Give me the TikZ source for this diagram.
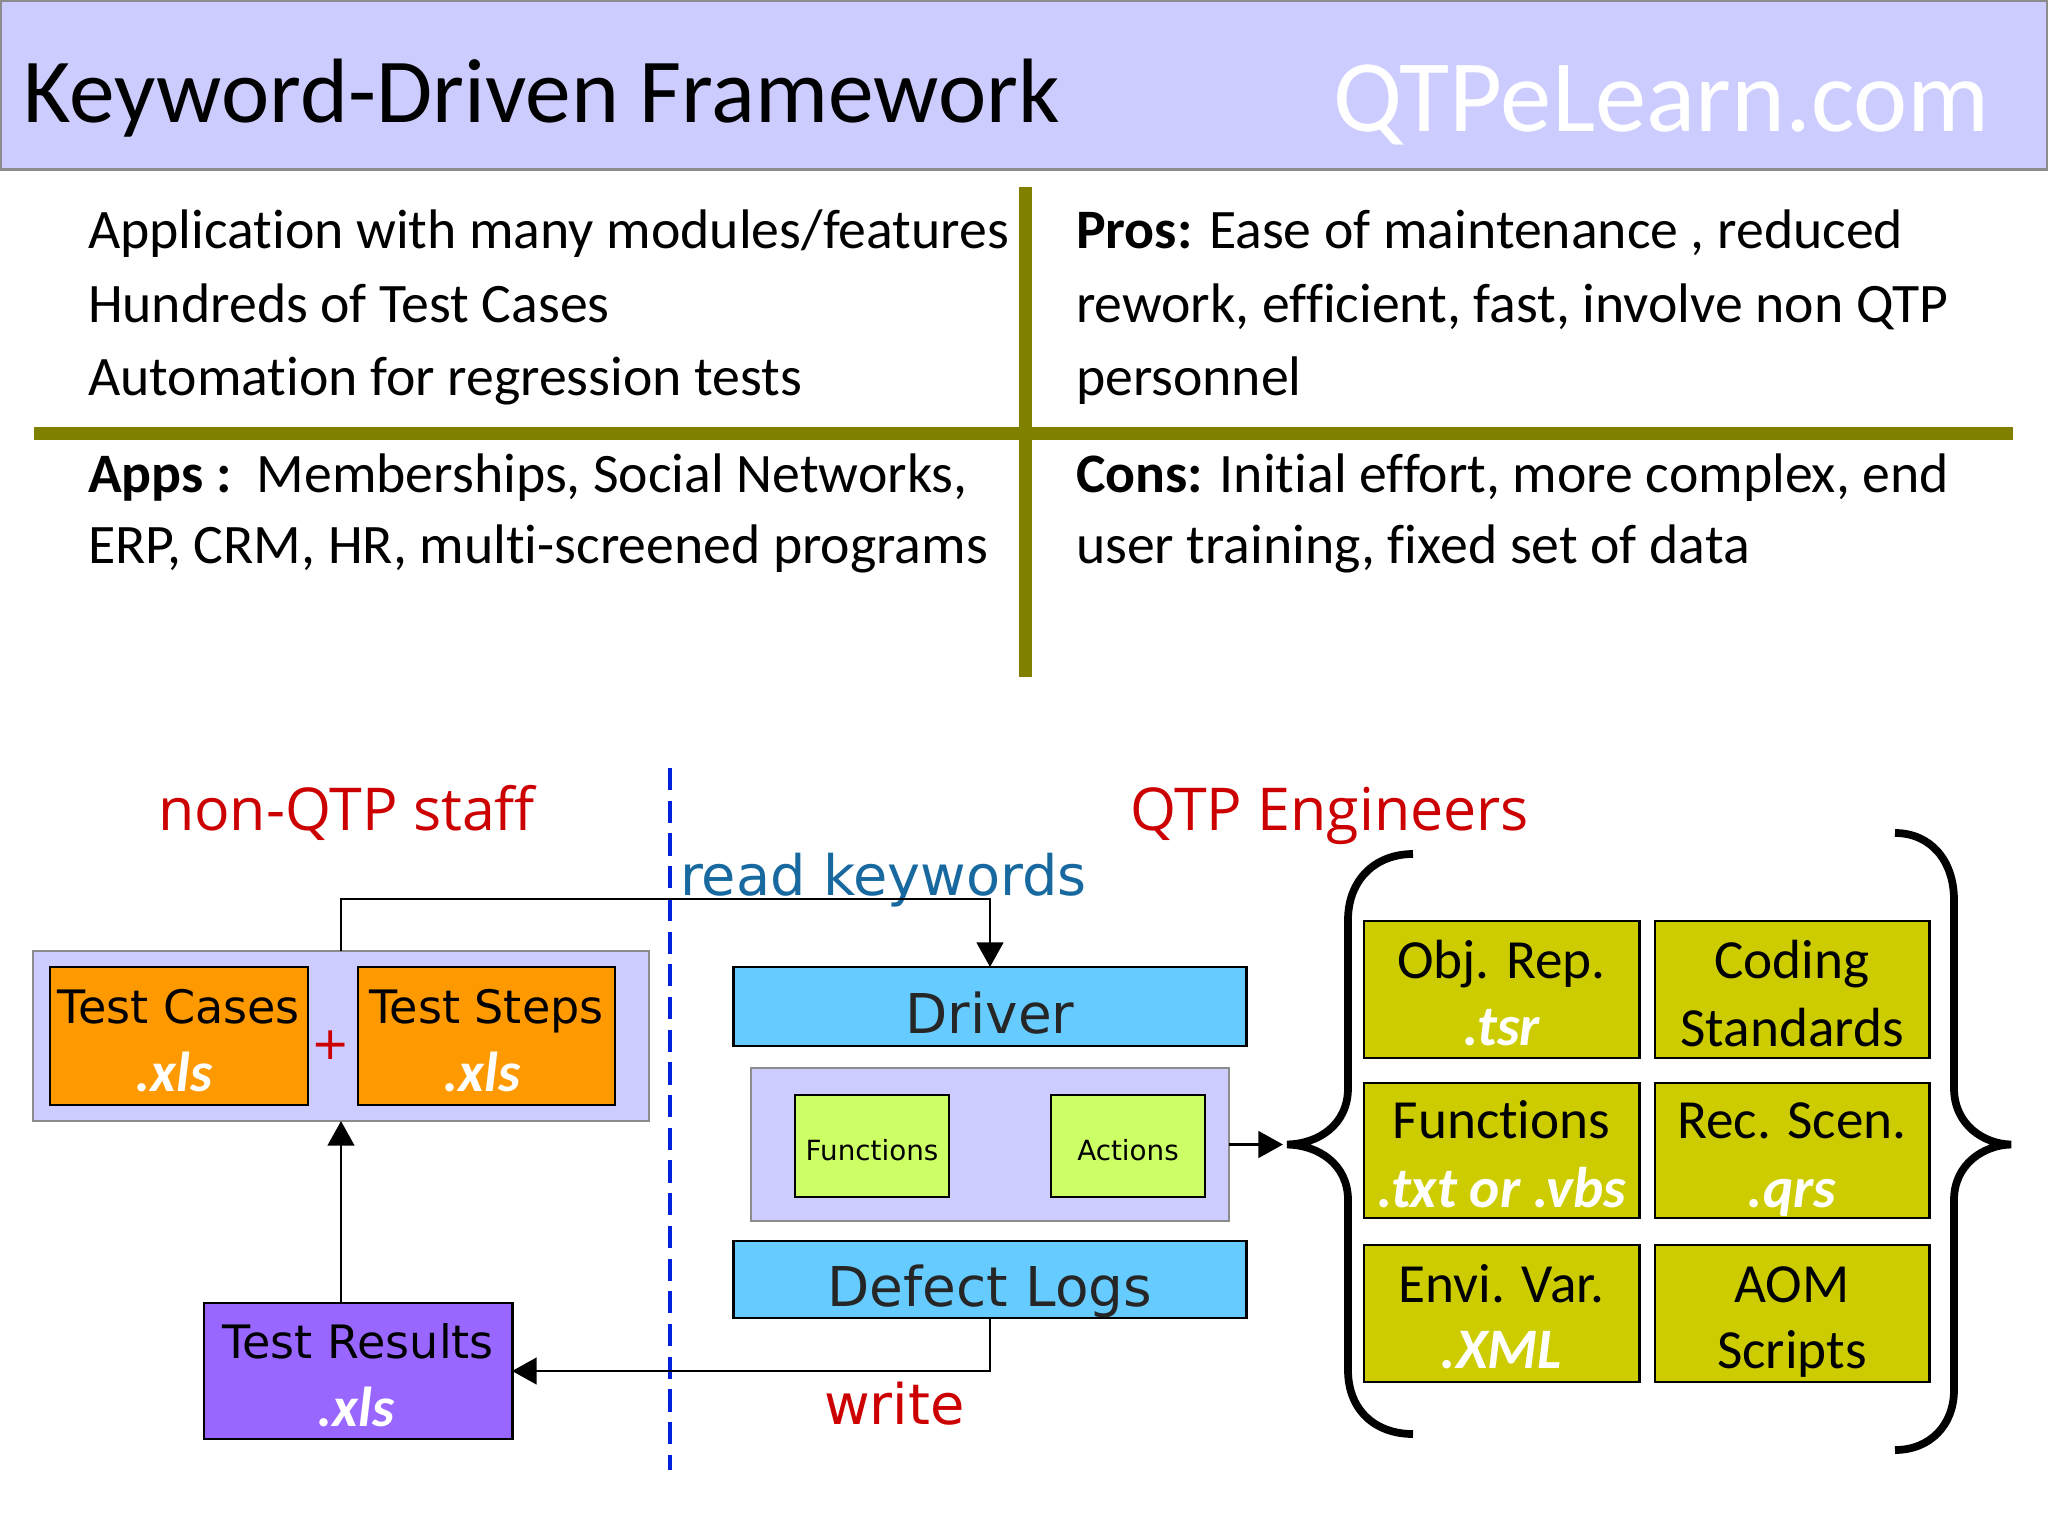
\documentclass[tikz,border=0pt]{standalone}
\usepackage{fontspec}
\setmainfont{Carlito}[Ligatures=NoCommon]
\newfontfamily\vfont{DejaVu Sans}
\newfontfamily\tfont{Open Sans}
\usetikzlibrary{arrows.meta}
\newcommand\fsz[1]{\fontsize{#1pt}{#1pt}\selectfont}
\definecolor{lav}{HTML}{CCCCFF}
\definecolor{oli}{HTML}{808000}
\definecolor{orng}{HTML}{FF9900}
\definecolor{purp}{HTML}{9966FF}
\definecolor{skyb}{HTML}{66CCFF}
\definecolor{lime}{HTML}{CCFF66}
\definecolor{yel}{HTML}{CCCC00}
\definecolor{redt}{HTML}{CC0000}
\definecolor{bluet}{HTML}{17699F}
\definecolor{dashb}{HTML}{0022DD}
\begin{document}
\begin{tikzpicture}[x=0.01cm,y=-0.01cm,
  box/.style={draw=black, line width=0.8pt, inner sep=0pt, outer sep=0pt},
  panel/.style={draw=black!45, fill=lav, line width=0.7pt, inner sep=0pt, outer sep=0pt},
  lbl/.style={inner sep=0pt, outer sep=0pt, anchor=base},
  lblw/.style={inner sep=0pt, outer sep=0pt, anchor=base west},
  body/.style={lblw, font=\fsz{15.85}},
  gridtxt/.style={lbl, font=\fsz{15.7}},
  ext/.style={lbl, text=white, font=\fsz{16}\bfseries\itshape},
  gext/.style={lbl, text=white, font=\fsz{16.3}\bfseries\itshape},
  boxtxt/.style={lbl, font=\vfont\fsz{13.1}},
  conn/.style={line width=0.7pt, draw=black},
  arr/.style={conn, -{Triangle[width=7.6pt,length=7pt]}},
  olive/.style={draw=oli, line width=3.7pt},
  brace/.style={draw=black, line width=2.2pt}
]
\useasboundingbox (0,0) rectangle (2048,1536);
\fill[white] (0,0) rectangle (2048,1536);

% header
\node[draw=black!45, fill=lav, line width=0.8pt, minimum width=20.46cm, minimum height=1.69cm, inner sep=0pt] (header) at (1024,85) {};
\node[lblw, font=\fsz{26.0}] (title) at (24,122) {Keyword-Driven Framework};
\node[lblw, text=white, font=\fsz{29.2}] (site) at (1333,131) {QTPeLearn.com};

% olive dividers
\coordinate (vtop) at (1025,187);
\coordinate (vbot) at (1025,677);
\coordinate (hl) at (34,433);
\coordinate (hr) at (2013,433);
\draw[olive] (vtop) -- (vbot);
\draw[olive] (hl) -- (hr);

% top-left text
\node[body] (t1) at (88,248) {Application with many modules/features};
\node[body] (t2) at (88,322) {Hundreds of Test Cases};
\node[body] (t3) at (88,395) {Automation for regression tests};
\node[body] (t4) at (88,492) {\textbf{Apps :}\ \ Memberships, Social Networks,};
\node[body] (t5) at (88,563) {ERP, CRM, HR, multi-screened programs};
% top-right text
\node[body] (p1) at (1076,248) {\textbf{Pros:} Ease of maintenance , reduced};
\node[body] (p2) at (1076,322) {rework, efficient, fast, involve non QTP};
\node[body] (p3) at (1076,395) {personnel};
\node[body] (c1) at (1076,492) {\textbf{Cons:} Initial effort, more complex, end};
\node[body] (c2) at (1076,563) {user training, fixed set of data};

% section labels
\node[lblw, text=redt, font=\tfont\fsz{16.8}] (nonqtp) at (158,830) {non-QTP staff};
\node[lblw, text=redt, font=\tfont\fsz{16.8}] (qtpeng) at (1130,830) {QTP Engineers};

% dashed divider
\coordinate (dtop) at (670,768);
\coordinate (dbot) at (670,1470);
\draw[draw=dashb, line width=1.2pt, dash pattern=on 6.3pt off 3pt] (dtop) -- (dbot);

% left group
\node[panel, minimum width=6.16cm, minimum height=1.70cm] (cont) at (341,1036) {};
\node[box, fill=orng, minimum width=2.58cm, minimum height=1.38cm] (tc) at (179,1036) {};
\node[box, fill=orng, minimum width=2.57cm, minimum height=1.38cm] (ts) at (486.5,1036) {};
\node[boxtxt] (tcl) at (179,1023) {Test Cases};
\node[ext] (tcx) at (174,1091) {.xls};
\node[boxtxt] (tsl) at (486.5,1023) {Test Steps};
\node[ext] (tsx) at (482,1091) {.xls};
\node[inner sep=0pt, text=redt, font=\vfont\fsz{13}] (plus) at (331,1045) {+};

\node[box, fill=purp, minimum width=3.08cm, minimum height=1.36cm] (tr) at (358,1371) {};
\node[boxtxt] (trl) at (358,1358) {Test Results};
\node[ext] (trx) at (356,1426) {.xls};

% middle group
\node[box, fill=skyb, minimum width=5.12cm, minimum height=0.79cm] (drv) at (990,1006.5) {};
\node[lbl, text=black!85, font=\vfont\fsz{15.6}] (drvl) at (990,1033) {Driver};
\node[panel, minimum width=4.78cm, minimum height=1.53cm] (mid) at (990,1144.5) {};
\node[box, fill=lime, line width=0.7pt, minimum width=1.54cm, minimum height=1.02cm] (fn) at (872,1146) {};
\node[box, fill=lime, line width=0.7pt, minimum width=1.54cm, minimum height=1.02cm] (ac) at (1128,1146) {};
\node[lbl, font=\vfont\fsz{7.9}] (fnl) at (872,1160) {Functions};
\node[lbl, font=\vfont\fsz{7.9}] (acl) at (1128,1160) {Actions};
\node[box, fill=skyb, minimum width=5.12cm, minimum height=0.77cm] (dl) at (990,1279.5) {};
\node[lbl, text=black!85, font=\vfont\fsz{15.6}] (dll) at (990,1306) {Defect Logs};

\node[lblw, text=bluet, font=\vfont\fsz{15.85}] (readkw) at (680,895) {read keywords};
\node[lblw, text=redt, font=\vfont\fsz{15.9}] (write) at (824,1424) {write};

% connectors
\draw[arr] (cont.north) -- ++(0,-52) -| (drv.north);
\draw[arr] (tr.north -| cont.south) -- (cont.south);
\draw[arr] (dl.south) |- (tr.east);
\coordinate (btip) at (1283,1144.5);
\draw[arr] (mid.east) -- (btip);

% right grid
\node[box, fill=yel, minimum width=2.75cm, minimum height=1.37cm] (g11) at (1501.5,989.5) {};
\node[box, fill=yel, minimum width=2.74cm, minimum height=1.37cm] (g12) at (1792,989.5) {};
\node[box, fill=yel, minimum width=2.75cm, minimum height=1.35cm] (g21) at (1501.5,1150.5) {};
\node[box, fill=yel, minimum width=2.74cm, minimum height=1.35cm] (g22) at (1792,1150.5) {};
\node[box, fill=yel, minimum width=2.75cm, minimum height=1.37cm] (g31) at (1501.5,1313.5) {};
\node[box, fill=yel, minimum width=2.74cm, minimum height=1.37cm] (g32) at (1792,1313.5) {};

\node[gridtxt] (g11a) at (1501.5,978) {Obj. Rep.};
\node[gext] (g11b) at (1501.5,1045) {.tsr};
\node[gridtxt] (g12a) at (1792,978) {Coding};
\node[gridtxt] (g12b) at (1792,1046) {Standards};
\node[gridtxt] (g21a) at (1501.5,1138) {Functions};
\node[gext] (g21b) at (1501.5,1207) {.txt or .vbs};
\node[gridtxt] (g22a) at (1792,1138) {Rec. Scen.};
\node[gext] (g22b) at (1792,1207) {.qrs};
\node[gridtxt] (g31a) at (1501.5,1302) {Envi. Var.};
\node[gext] (g31b) at (1501.5,1368) {.XML};
\node[gridtxt] (g32a) at (1792,1302) {AOM};
\node[gridtxt] (g32b) at (1792,1368) {Scripts};

% braces
\draw[brace] (1413,854) .. controls (1375,854) and (1348,880) .. (1348,920)
  -- (1348,1088) .. controls (1348,1125) and (1318,1144) .. (1287,1144.5)
  .. controls (1318,1145) and (1348,1164) .. (1348,1200)
  -- (1348,1370) .. controls (1348,1410) and (1375,1434) .. (1413,1434);
\draw[brace] (1895,833) .. controls (1930,833) and (1954,860) .. (1954,900)
  -- (1954,1088) .. controls (1954,1125) and (1984,1144) .. (2011,1144.5)
  .. controls (1984,1145) and (1954,1164) .. (1954,1200)
  -- (1954,1390) .. controls (1954,1425) and (1930,1450) .. (1895,1450);
\end{tikzpicture}
\end{document}
